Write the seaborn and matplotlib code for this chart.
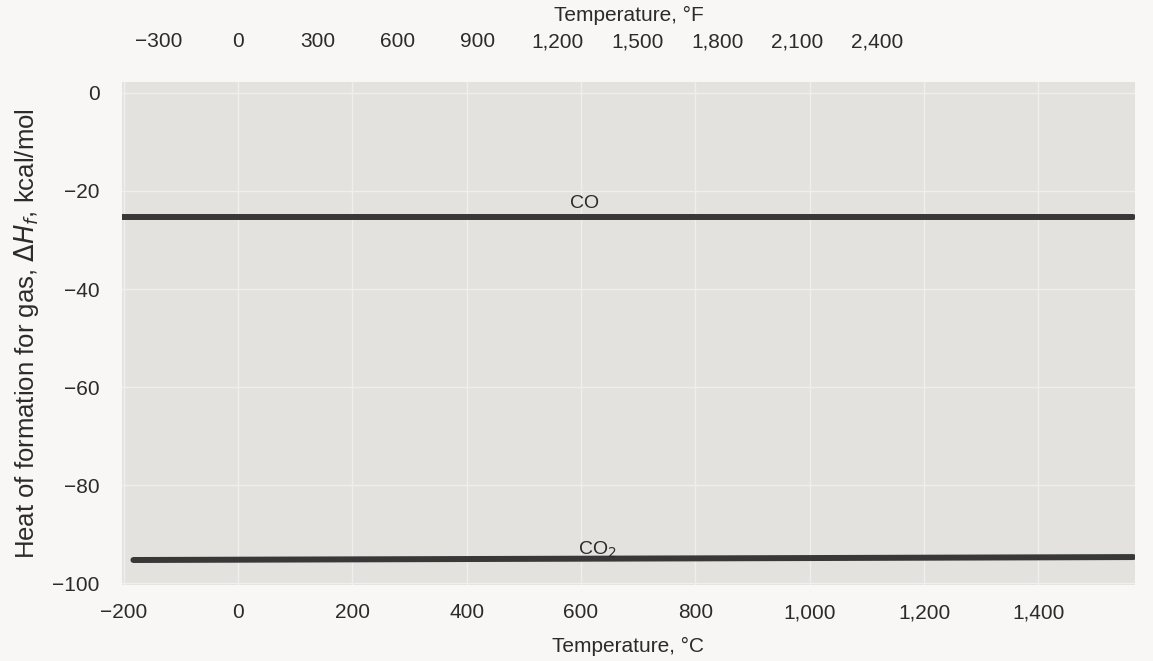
import matplotlib
matplotlib.use('Agg')
import matplotlib.pyplot as plt
import pandas as pd
import seaborn as sns

# values (kcal/mol, deg C)
co_temp = [-205, 400, 1000, 1566]
co_heat = [-25.3, -25.3, -25.3, -25.3]
co2_temp = [-183, 400, 1000, 1566]
co2_heat = [-95.3, -95.1, -94.9, -94.7]

c_ticks = [-200, 0, 200, 400, 600, 800, 1000, 1200, 1400]
f_ticks = [-300, 0, 300, 600, 900, 1200, 1500, 1800, 2100, 2400]
y_ticks = [0, -20, -40, -60, -80, -100]

df = pd.concat([
    pd.DataFrame({'temp': co_temp, 'heat': co_heat, 'gas': 'CO'}),
    pd.DataFrame({'temp': co2_temp, 'heat': co2_heat, 'gas': 'CO2'}),
])

sns.set_style('white')
plt.rcParams['font.family'] = ['Liberation Sans', 'DejaVu Sans']
ink = '#2b2b2b'

fig = plt.figure(figsize=(11.53, 6.61), dpi=100, facecolor='#f8f7f5')
ax = fig.add_axes([122 / 1153, 1 - 585 / 661, (1135 - 122) / 1153, (585 - 82) / 661])
ax.set_facecolor('#e4e2df')

sns.lineplot(data=df, x='temp', y='heat', hue='gas', palette=['#383838', '#383838'],
             linewidth=4.3, legend=False, ax=ax)

ax.set_xlim(-203, 1569)
ax.set_ylim(-100.4, 2.24)
ax.set_xticks(c_ticks)
ax.set_xticklabels([f'{v:,}'.replace('-', '\u2212') for v in c_ticks], fontsize=15, color=ink)
ax.set_yticks(y_ticks)
ax.set_yticklabels([f'{v}'.replace('-', '\u2212') for v in y_ticks], fontsize=15, color=ink)
ax.tick_params(axis='x', length=0, pad=13)
ax.tick_params(axis='y', length=0, pad=16)
ax.grid(True, color='#f0efed', linewidth=1.0)
for s in ax.spines.values():
    s.set_visible(False)

ax.set_xlabel('Temperature, °C', fontsize=15, color=ink, labelpad=11)
ax.set_ylabel('Heat of formation for gas, $\\Delta H_f$, kcal/mol', fontsize=18.5, color=ink, labelpad=8)

# top scale in deg F
top = ax.twiny()
top.set_xlim(-436, 3368)
top.set_xticks(f_ticks)
top.set_xticklabels([f'{v:,}'.replace('-', '\u2212') for v in f_ticks], fontsize=15, color=ink)
top.tick_params(axis='x', length=0, pad=22)
top.set_xlabel('Temperature, °F', fontsize=15, color=ink, labelpad=8)
for s in top.spines.values():
    s.set_visible(False)

ax.text(607, -22.6, 'CO', fontsize=14, color=ink, ha='center', va='center')
ax.text(628, -93.3, 'CO$_2$', fontsize=14, color=ink, ha='center', va='center')

fig.savefig('out.png', dpi=100, facecolor=fig.get_facecolor())
